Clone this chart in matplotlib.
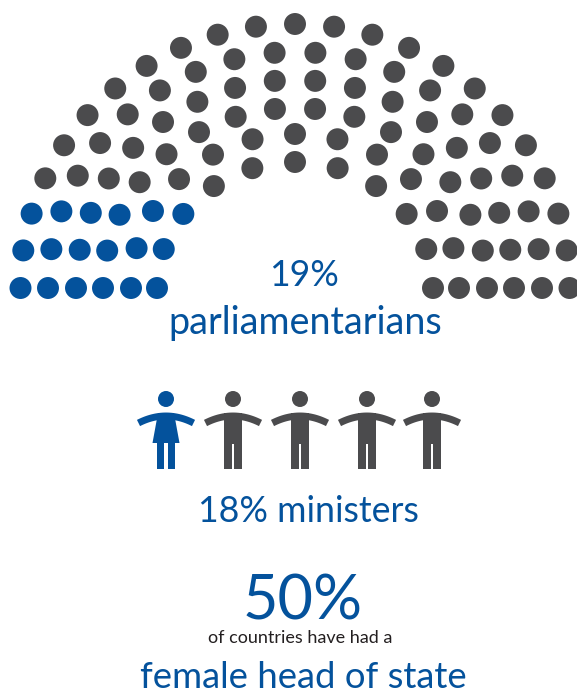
import numpy as np
import matplotlib
matplotlib.use("Agg")
import matplotlib.pyplot as plt
from matplotlib.patches import Circle, Polygon

BLUE = "#04529c"
GREY = "#4b4b4d"
W, H = 577, 693

# hemicycle: one entry per arc, outermost first
seats_per_arc = [23, 20, 18, 16, 13, 11]
women_per_arc = [3, 3, 3, 3, 3, 3]
arc_rx = [274.5, 247, 219, 192, 164, 138]
arc_ry = [264, 236, 208, 180, 154, 126]

# ministers row
figure_female = [True, False, False, False, False]
figure_x = [166, 233, 300, 367, 432]

parliament_pct = "19%"
parliament_label = "parliamentarians"
ministers_label = "18% ministers"
head_state_pct = "50%"
head_state_note = "of countries have had a"
head_state_label = "female head of state"


def draw_hemicycle(ax, cx=295, cy=288):
    for n, women, rx, ry in zip(seats_per_arc, women_per_arc, arc_rx, arc_ry):
        angles = np.linspace(np.pi, 0, n)
        xs = cx + rx * np.cos(angles)
        ys = cy - ry * np.sin(angles)
        colors = [BLUE if i < women else GREY for i in range(n)]
        ax.scatter(xs, ys, s=250, c=colors, linewidths=0, zorder=2)


def draw_person(ax, cx, female, color):
    ax.add_patch(Circle((cx, 399), 8, fc=color, ec="none"))

    # arms: curved band running over the shoulders
    t = np.linspace(-1, 1, 40)
    arm_x = cx + 27.5 * t
    arm_y = 416 + 7 * t ** 2
    ax.plot(arm_x, arm_y, color=color, lw=5.0, solid_capstyle="butt")

    if female:
        body = [(cx - 8, 413), (cx + 8, 413), (cx + 13.5, 443), (cx - 13.5, 443)]
        legs = [(cx - 9, cx - 1.7), (cx + 1.7, cx + 9)]
        leg_top = 442
    else:
        body = [(cx - 9, 413), (cx + 9, 413), (cx + 9, 444), (cx - 9, 444)]
        legs = [(cx - 9, cx - 1.4), (cx + 1.4, cx + 9)]
        leg_top = 443
    ax.add_patch(Polygon(body, closed=True, fc=color, ec="none"))
    for x0, x1 in legs:
        ax.add_patch(Polygon([(x0, leg_top), (x1, leg_top), (x1, 469), (x0, 469)],
                             closed=True, fc=color, ec="none"))


def main():
    plt.rcParams["font.family"] = ["Lato", "DejaVu Sans"]
    fig = plt.figure(figsize=(W / 100, H / 100), dpi=100)
    ax = fig.add_axes([0, 0, 1, 1])
    ax.set_xlim(0, W)
    ax.set_ylim(H, 0)
    ax.axis("off")

    draw_hemicycle(ax)

    for x, female in zip(figure_x, figure_female):
        draw_person(ax, x, female, BLUE if female else GREY)

    ax.text(304, 276, parliament_pct, color=BLUE, fontsize=25.7, ha="center", va="center")
    ax.text(305, 323, parliament_label, color=BLUE, fontsize=27.2, ha="center", va="center")
    ax.text(308, 512, ministers_label, color=BLUE, fontsize=25.7, ha="center", va="center")
    ax.text(303, 602, head_state_pct, color=BLUE, fontsize=44, ha="center", va="center")
    ax.text(300, 638, head_state_note, color="#231f20", fontsize=13, ha="center", va="center")
    ax.text(303, 677, head_state_label, color=BLUE, fontsize=26.3, ha="center", va="center")

    fig.savefig("out.png", dpi=100, facecolor="white")
    plt.close(fig)


if __name__ == "__main__":
    main()
